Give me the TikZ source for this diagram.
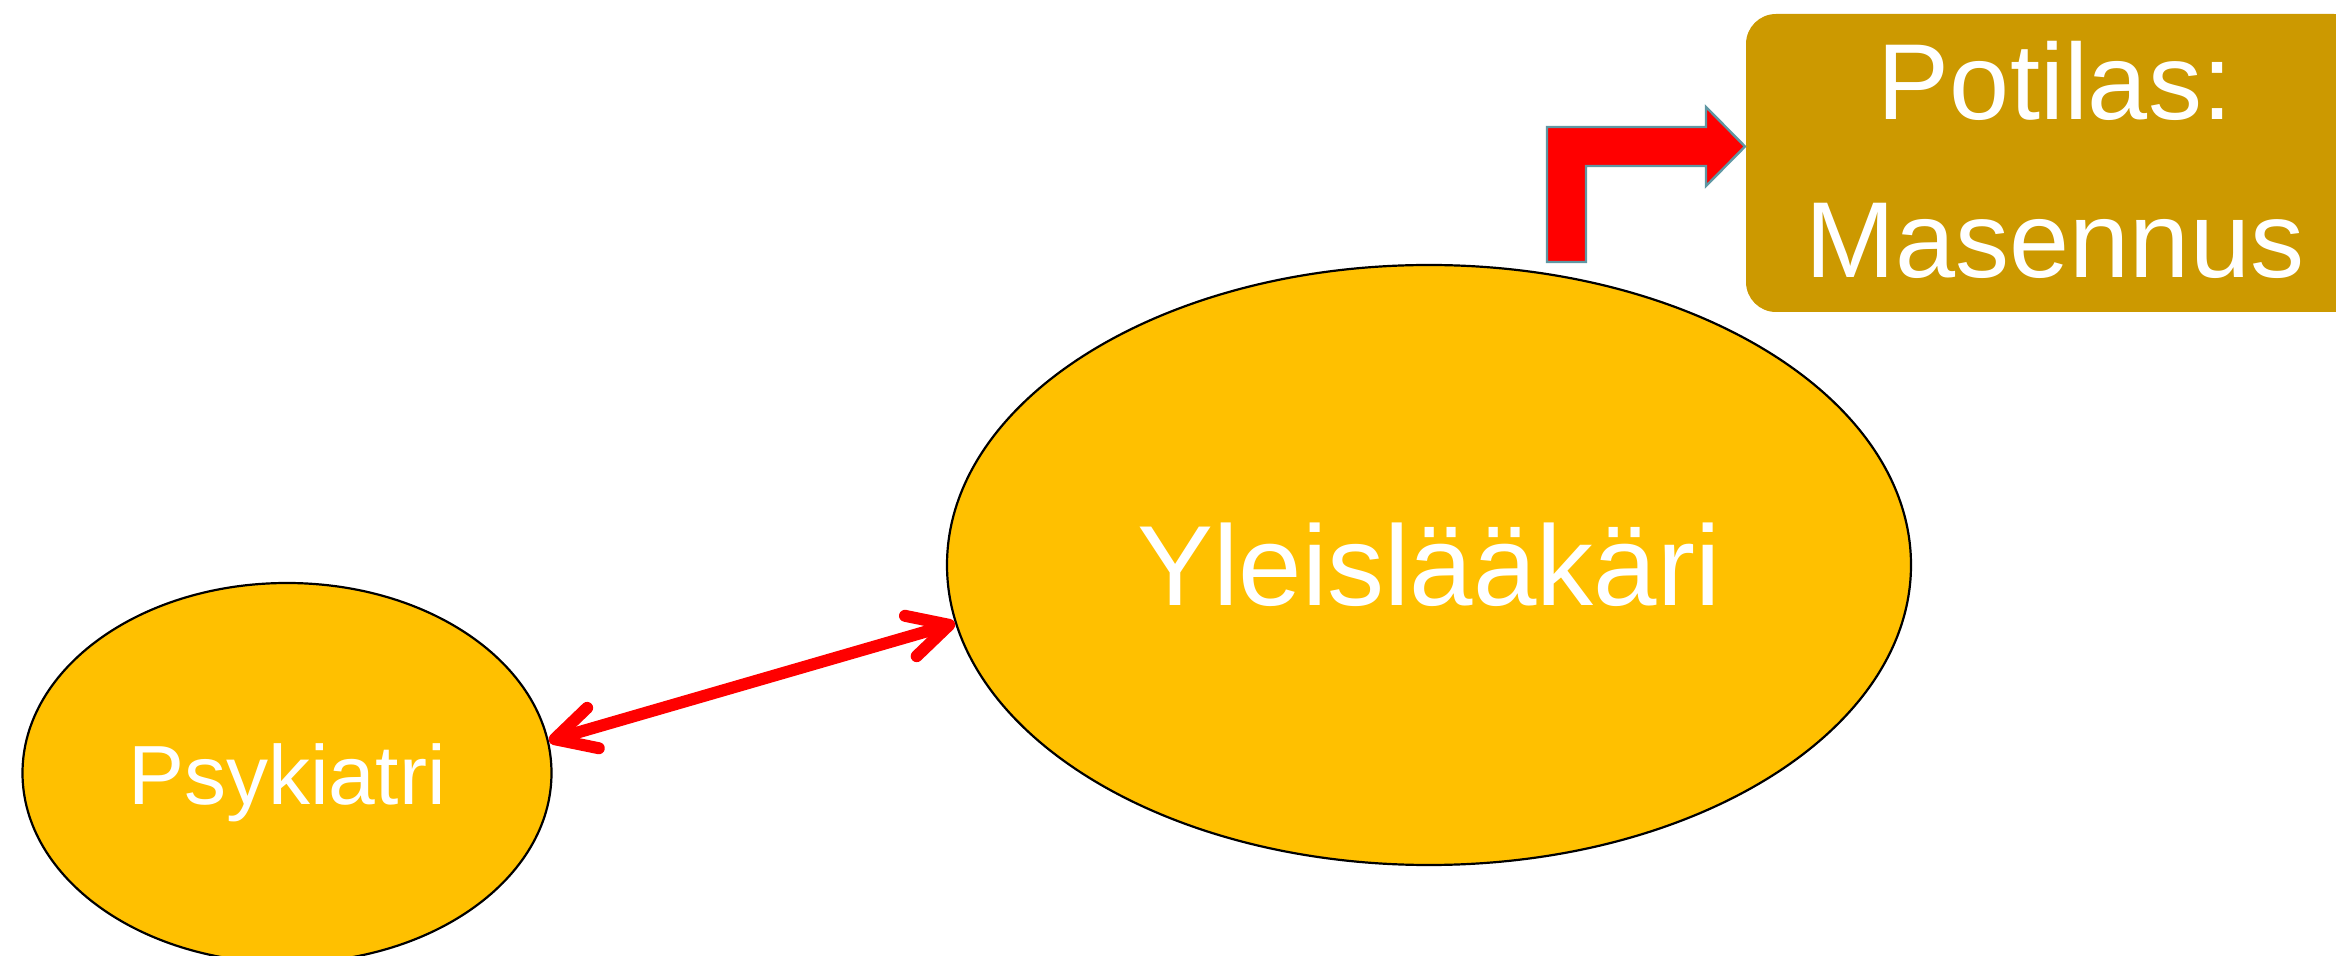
\documentclass[tikz,border=0pt]{standalone}
\usepackage{fontspec}
\setmainfont{Liberation Sans}
\usetikzlibrary{shapes.geometric,arrows.meta}
\definecolor{ellfill}{HTML}{FFC000}
\definecolor{boxfill}{HTML}{CC9900}
\definecolor{bentedge}{HTML}{5F97A3}
\definecolor{arrred}{HTML}{FF0000}
\tikzset{
  ellnode/.style={ellipse, draw=black, line width=1.1pt, fill=ellfill, inner sep=0pt, text=white},
  boxnode/.style={rectangle, rounded corners=15pt, fill=boxfill, inner sep=0pt, text=white, align=center},
  barbtip/.tip={Straight Barb[length=20pt,width=21pt,line cap=round,line join=round]},
  duallink/.style={draw=arrred, line width=6pt, line cap=round, barbtip-barbtip},
  bentarrow/.style={fill=arrred, draw=bentedge, line width=1.2pt, line join=miter}
}
\begin{document}
\begin{tikzpicture}[x=0.5pt,y=-0.5pt]
  \useasboundingbox (0,0) rectangle (2336,956);
  \clip (0,0) rectangle (2336,956);
  % nodes
  \node[ellnode, minimum width=482pt, minimum height=300pt,
        font=\fontsize{57pt}{68pt}\selectfont] (yle) at (1429,565) {Yleislääkäri};
  \node[ellnode, minimum width=264.5pt, minimum height=190pt,
        text height=41pt, text depth=9pt,
        font=\fontsize{42pt}{50pt}\selectfont] (psy) at (287,773) {Psykiatri};
  \node[boxnode, minimum width=309pt, minimum height=149pt,
        text depth=4pt,
        font=\fontsize{54pt}{79pt}\selectfont] (pot) at (2055,163) {Potilas:\\Masennus};
  % connectors
  \draw[duallink] (psy.7) -- (yle.187.3);
  % bent block arrow from Yleislääkäri towards Potilas box
  \draw[bentarrow] (1547,262) -- (1547,127) -- (1706,127) -- (1706,107)
     -- (1745,146.5) -- (1706,186) -- (1706,166) -- (1586,166) -- (1586,262) -- cycle;
\end{tikzpicture}
\end{document}
